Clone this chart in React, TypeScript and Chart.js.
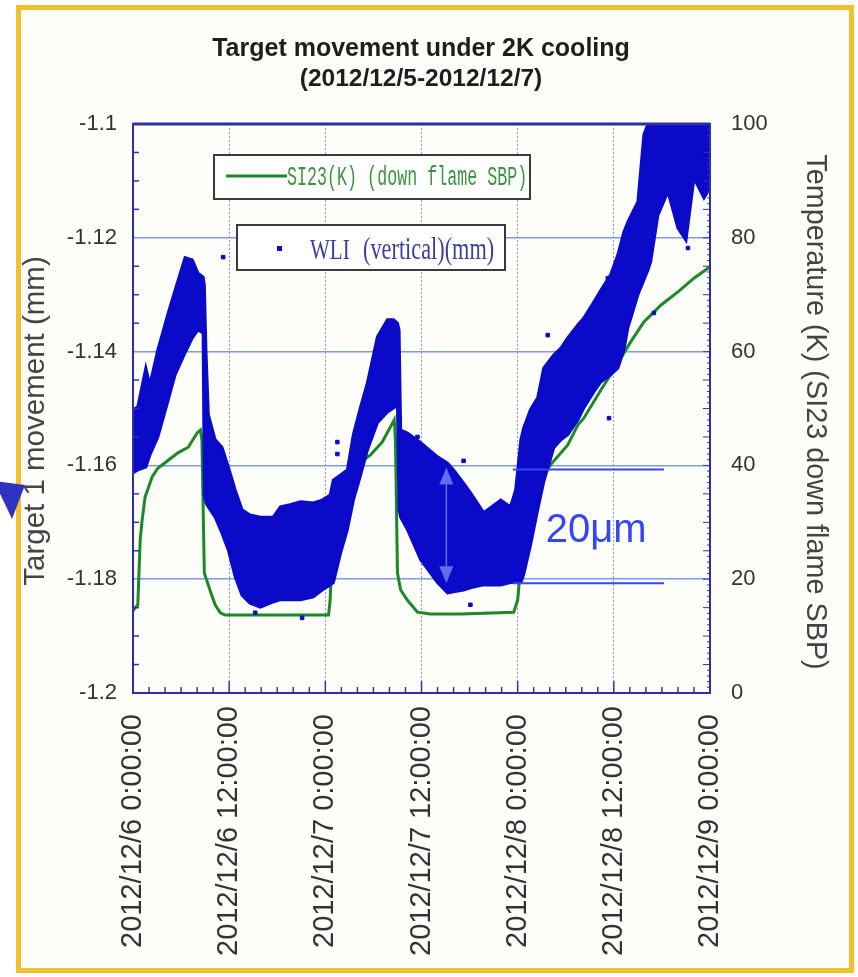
import React, { useEffect, useRef } from 'react';
import { Chart, registerables } from 'chart.js';

Chart.register(...registerables);

// ---------- text ----------
const TITLE_LINES = ['Target movement under 2K cooling', '(2012/12/5-2012/12/7)'];
const Y_TITLE = 'Target 1 movement (mm)';
const Y1_TITLE = 'Temperature (K) (SI23 down flame SBP)';
const LEGEND_TEMP = 'SI23(K) (down flame SBP)';
const LEGEND_WLI_A = 'WLI';
const LEGEND_WLI_B = '(vertical)(mm)';
const ANNOT_TEXT = '20\u03bcm';

// ---------- ticks ----------
const X_TICK_LABELS = [
  '2012/12/6 0:00:00',
  '2012/12/6 12:00:00',
  '2012/12/7 0:00:00',
  '2012/12/7 12:00:00',
  '2012/12/8 0:00:00',
  '2012/12/8 12:00:00',
  '2012/12/9 0:00:00',
];
const Y_TICK_LABELS = ['-1.2', '-1.18', '-1.16', '-1.14', '-1.12', '-1.1'];
const Y1_TICK_LABELS = ['0', '20', '40', '60', '80', '100'];

// ---------- data: hours since 2012/12/6 0:00 ----------
// WLI (vertical) scatter cloud, read as an upper and lower envelope (mm)
const WLI_HOURS = [
  0, 0.6, 1.6, 2.1, 3.1, 4.4, 5.25, 6.5, 7.4, 8.1,
  8.75, 8.9, 9.1, 9.4, 10.25, 11.1, 11.9, 12.75, 13.6, 14.6,
  15.9, 17.5, 18.4, 19.6, 20.9, 22.5, 23.6, 24.6, 25, 25.9,
  26.75, 27.5, 28.4, 29.25, 30.5, 31.75, 32.5, 33, 33.2, 33.4,
  34.25, 35.9, 38, 39.25, 40, 41.25, 42.1, 43.75, 45.9, 47.1,
  47.75, 48.4, 48.75, 49.6, 50.5, 51.25, 52.5, 53.4, 54.25, 55.5,
  56.25, 57.5, 58.4, 59.6, 60.5, 61.25, 61.75, 63, 63.75, 64.25,
  64.6, 65.5, 66.75, 68, 69, 70, 71.25, 72,
];
const WLI_UPPER = [
  -1.1503, -1.1497, -1.1429, -1.1459, -1.1397, -1.1332, -1.1292, -1.1235, -1.1239, -1.1262,
  -1.1269, -1.1283, -1.1397, -1.1511, -1.1555, -1.1568, -1.1603, -1.1643, -1.1678, -1.1687,
  -1.1691, -1.1691, -1.1673, -1.1669, -1.1664, -1.1666, -1.1661, -1.1652, -1.1626, -1.1617,
  -1.1608, -1.1546, -1.1497, -1.1455, -1.1374, -1.1344, -1.1344, -1.135, -1.1362, -1.1538,
  -1.1543, -1.156, -1.1585, -1.1596, -1.1608, -1.1631, -1.1648, -1.1683, -1.1661, -1.1673,
  -1.1643, -1.1555, -1.1534, -1.1502, -1.1481, -1.1429, -1.1406, -1.1394, -1.1376, -1.1353,
  -1.1341, -1.1313, -1.1292, -1.1265, -1.123, -1.119, -1.1172, -1.1137, -1.1019, -1.1,
  -1.1, -1.1, -1.1, -1.1, -1.1, -1.1, -1.1, -1.1,
];
const WLI_LOWER = [
  -1.1613, -1.1608, -1.1603, -1.1582, -1.155, -1.1485, -1.1441, -1.1402, -1.1376, -1.1362,
  -1.1367, -1.1652, -1.1666, -1.1673, -1.1691, -1.1719, -1.1749, -1.1796, -1.1828, -1.1842,
  -1.1849, -1.184, -1.1836, -1.1836, -1.1836, -1.1831, -1.1819, -1.181, -1.1806, -1.1754,
  -1.1713, -1.1661, -1.1617, -1.1573, -1.1525, -1.1506, -1.1499, -1.1494, -1.1678, -1.1691,
  -1.1713, -1.1766, -1.1806, -1.1824, -1.1822, -1.1819, -1.1815, -1.181, -1.181, -1.1806,
  -1.1806, -1.1806, -1.1792, -1.174, -1.1678, -1.1629, -1.1569, -1.1555, -1.1546, -1.152,
  -1.1499, -1.1471, -1.1453, -1.1441, -1.1429, -1.1397, -1.1358, -1.13, -1.1274, -1.1257,
  -1.1242, -1.116, -1.1119, -1.1183, -1.1204, -1.1095, -1.113, -1.1112,
];
// isolated WLI points
const WLI_OUTLIER_HOURS = [11.25, 15.25, 21.1, 25.5, 25.5, 35.5, 41.25, 42.1, 50, 51.75, 59.25, 59.4, 65, 69.25];
const WLI_OUTLIER_VALUES = [-1.1234, -1.1859, -1.1868, -1.1559, -1.158, -1.155, -1.1592, -1.1845, -1.1683, -1.1371, -1.1271, -1.1517, -1.1332, -1.1218];

// SI23 temperature (K)
const TEMP_HOURS = [
  0, 0.6, 0.9, 1.1, 1.5, 2.4, 3.1, 4.4, 5.6, 6.9,
  8.0, 8.4, 8.6, 8.9, 9.6, 10.25, 10.9, 11.5, 24.4, 24.6,
  24.9, 25.25, 25.9, 27.1, 28.4, 29.6, 31.1, 32.1, 32.6, 32.75,
  33.0, 33.4, 34.25, 35.5, 37.1, 41.0, 47.5, 48.0, 48.4, 48.75,
  49.6, 50.9, 52.1, 54.25, 55.5, 56.25, 58.4, 60, 62.1, 63.75,
  65.9, 68, 70, 72,
];
const TEMP_VALUES = [
  14.5, 15.5, 26.9, 29.9, 34.4, 38.0, 39.5, 40.9, 42.2, 43.2,
  45.7, 46.2, 44.5, 21.1, 18.1, 15.5, 14.1, 13.7, 13.7, 16.3,
  26.9, 33.9, 36.9, 39.2, 40.6, 41.8, 44.1, 46.7, 48.0, 44.5,
  21.1, 18.1, 16.3, 14.2, 13.9, 13.9, 14.2, 16.3, 22.5, 28.6,
  33.9, 37.4, 40.1, 43.6, 47.1, 48.3, 53.3, 56.8, 61.7, 65.2,
  68.2, 70.5, 72.9, 74.9,
];

// annotation ("20um" span)
const ANNOT_TOP = -1.1607;
const ANNOT_BOTTOM = -1.1807;
const ANNOT_X_START = 47.4;
const ANNOT_X_END = 66.25;
const ANNOT_ARROW_X = 39.1;
const ANNOT_TEXT_X = 51.5;
const ANNOT_TEXT_Y = -1.1735;

const BLUE = '#0a0ac8';
const GREEN = '#1b8a26';
const SANS = '"Liberation Sans", Arial, sans-serif';
const X_LABEL_CENTER_Y = 831;

const decorPlugin = {
  id: 'decor',
  beforeDraw(chart: any) {
    const ctx = chart.ctx as CanvasRenderingContext2D;
    // rotated x labels are centred in the axis band (as in the source)
    const sx = chart.scales.x;
    if (sx && !sx.__centered) {
      const orig = sx.getLabelItems.bind(sx);
      sx.getLabelItems = (ca: any) =>
        orig(ca).map((it: any) => ({
          ...it,
          options: {
            ...it.options,
            textAlign: 'center',
            translation: [it.options.translation[0], X_LABEL_CENTER_Y],
          },
        }));
      sx.__centered = true;
    }
    ctx.save();
    ctx.fillStyle = '#ffffff';
    ctx.fillRect(0, 0, chart.width, chart.height);
    ctx.fillStyle = '#fdfdfa';
    ctx.fillRect(18, 7, 834, 964);
    ctx.strokeStyle = '#f0c12f';
    ctx.lineWidth = 5;
    ctx.strokeRect(18.5, 7.5, 833, 963);
    ctx.fillStyle = '#1e1e1e';
    ctx.textAlign = 'center';
    ctx.textBaseline = 'alphabetic';
    ctx.font = 'bold 25px ' + SANS;
    ctx.fillText(TITLE_LINES[0], 421, 56);
    ctx.font = 'bold 24.5px ' + SANS;
    ctx.fillText(TITLE_LINES[1], 421, 86);
    // axis titles
    ctx.fillStyle = '#444444';
    ctx.textBaseline = 'middle';
    ctx.font = '29.5px ' + SANS;
    ctx.save();
    ctx.translate(36, 421);
    ctx.rotate(-Math.PI / 2);
    ctx.fillText(Y_TITLE, 0, 0);
    ctx.restore();
    ctx.font = '28.8px ' + SANS;
    ctx.save();
    ctx.translate(815, 412);
    ctx.rotate(Math.PI / 2);
    ctx.fillText(Y1_TITLE, 0, 0);
    ctx.restore();
    ctx.restore();
  },
  afterDatasetsDraw(chart: any) {
    const ctx = chart.ctx as CanvasRenderingContext2D;
    const { left, right, top, bottom } = chart.chartArea;
    const ys = chart.scales.y;
    const xs = chart.scales.x;
    const y1 = chart.scales.y1;
    ctx.save();
    ctx.strokeStyle = '#3434a8';
    ctx.lineWidth = 1.5;
    const seg = (a: number, b: number, c: number, d: number) => {
      ctx.beginPath();
      ctx.moveTo(a, b);
      ctx.lineTo(c, d);
      ctx.stroke();
    };
    // left minor ticks every 0.005
    for (let k = 1; k < 20; k++) {
      if (k % 4 === 0) continue;
      const py = ys.getPixelForValue(-1.2 + k * 0.005);
      seg(left, py, left + 6, py);
    }
    // bottom ticks every 2 h, major every 12 h
    for (let h = 2; h < 72; h += 2) {
      const px = xs.getPixelForValue(h);
      seg(px, bottom, px, bottom - (h % 12 === 0 ? 12 : 6));
    }
    // right ticks every 1 K, longer every 5 K
    ctx.lineWidth = 1;
    for (let t = 1; t < 100; t++) {
      const py = y1.getPixelForValue(t);
      seg(right, py, right - (t % 5 === 0 ? 7 : 3), py);
    }
    // frame
    ctx.strokeStyle = '#2e2ea6';
    ctx.lineWidth = 2;
    ctx.strokeRect(left, top, right - left, bottom - top);
    ctx.lineWidth = 3;
    seg(left, top, right, top);
    ctx.restore();
  },
  afterDraw(chart: any) {
    const ctx = chart.ctx as CanvasRenderingContext2D;
    const ys = chart.scales.y;
    const xs = chart.scales.x;
    ctx.save();
    // legend box 1 (temperature)
    ctx.fillStyle = '#ffffff';
    ctx.fillRect(214, 155, 316, 44);
    ctx.strokeStyle = '#3a3a3a';
    ctx.lineWidth = 2;
    ctx.strokeRect(214, 155, 316, 44);
    ctx.strokeStyle = GREEN;
    ctx.lineWidth = 3;
    ctx.beginPath();
    ctx.moveTo(226, 176);
    ctx.lineTo(287, 176);
    ctx.stroke();
    ctx.fillStyle = '#3f923f';
    ctx.textAlign = 'left';
    ctx.textBaseline = 'alphabetic';
    ctx.font = '16.7px "Liberation Mono", "DejaVu Sans Mono", monospace';
    ctx.save();
    ctx.translate(287, 185);
    ctx.scale(1, 1.6);
    ctx.fillText(LEGEND_TEMP, 0, 0);
    ctx.restore();
    // legend box 2 (WLI)
    ctx.fillStyle = '#ffffff';
    ctx.fillRect(237, 225, 268, 45);
    ctx.strokeStyle = '#3a3a3a';
    ctx.lineWidth = 2;
    ctx.strokeRect(237, 225, 268, 45);
    ctx.fillStyle = BLUE;
    ctx.fillRect(277, 246, 5, 5);
    ctx.fillStyle = '#3c3ca2';
    ctx.save();
    ctx.translate(310, 259);
    ctx.scale(1, 1.45);
    ctx.font = '21px "Liberation Serif", "DejaVu Serif", serif';
    ctx.fillText(LEGEND_WLI_A, 0, 0);
    ctx.font = '22.3px "Liberation Serif", "DejaVu Serif", serif';
    ctx.fillText(LEGEND_WLI_B, 53, 0);
    ctx.restore();

    // 20um annotation
    const yT = ys.getPixelForValue(ANNOT_TOP);
    const yB = ys.getPixelForValue(ANNOT_BOTTOM);
    const x0 = xs.getPixelForValue(ANNOT_X_START);
    const x1 = xs.getPixelForValue(ANNOT_X_END);
    const xa = xs.getPixelForValue(ANNOT_ARROW_X);
    ctx.strokeStyle = '#3646f2';
    ctx.lineWidth = 2;
    ctx.beginPath();
    ctx.moveTo(x0, yT);
    ctx.lineTo(x1, yT);
    ctx.moveTo(x0, yB);
    ctx.lineTo(x1, yB);
    ctx.stroke();
    ctx.strokeStyle = '#5f6cf0';
    ctx.lineWidth = 1.5;
    ctx.beginPath();
    ctx.moveTo(xa, yT + 10);
    ctx.lineTo(xa, yB - 10);
    ctx.stroke();
    ctx.fillStyle = '#5f6cf0';
    ctx.beginPath();
    ctx.moveTo(xa, yT - 2);
    ctx.lineTo(xa - 7, yT + 15);
    ctx.lineTo(xa + 7, yT + 15);
    ctx.closePath();
    ctx.fill();
    ctx.beginPath();
    ctx.moveTo(xa, yB);
    ctx.lineTo(xa - 7, yB - 17);
    ctx.lineTo(xa + 7, yB - 17);
    ctx.closePath();
    ctx.fill();
    ctx.fillStyle = '#3646f2';
    ctx.font = '40px ' + SANS;
    ctx.textAlign = 'left';
    ctx.fillText(ANNOT_TEXT, xs.getPixelForValue(ANNOT_TEXT_X), ys.getPixelForValue(ANNOT_TEXT_Y));

    // pointer arrow at the left edge
    ctx.fillStyle = '#3232c0';
    ctx.beginPath();
    ctx.moveTo(25, 485);
    ctx.lineTo(-6, 481);
    ctx.lineTo(12, 519);
    ctx.closePath();
    ctx.fill();
    ctx.restore();
  },
};

export default function App() {
  const ref = useRef<HTMLCanvasElement>(null);

  useEffect(() => {
    const canvas = ref.current;
    if (!canvas) return;

    const upper = WLI_HOURS.map((h, i) => ({ x: h, y: WLI_UPPER[i] }));
    const lower = WLI_HOURS.map((h, i) => ({ x: h, y: WLI_LOWER[i] }));
    const outliers = WLI_OUTLIER_HOURS.map((h, i) => ({ x: h, y: WLI_OUTLIER_VALUES[i] }));
    const temp = TEMP_HOURS.map((h, i) => ({ x: h, y: TEMP_VALUES[i] }));

    const chart = new Chart(canvas, {
      type: 'line',
      data: {
        datasets: [
          {
            label: 'WLI upper',
            data: upper,
            yAxisID: 'y',
            borderColor: BLUE,
            borderWidth: 3,
            pointRadius: 0,
            tension: 0,
            fill: false,
            clip: 0,
          },
          {
            label: 'WLI (vertical)(mm)',
            data: lower,
            yAxisID: 'y',
            borderColor: BLUE,
            backgroundColor: BLUE,
            borderWidth: 3,
            pointRadius: 0,
            tension: 0,
            fill: '-1',
            clip: 0,
          },
          {
            label: 'WLI points',
            data: outliers,
            yAxisID: 'y',
            showLine: false,
            pointStyle: 'rect',
            pointRadius: 2.5,
            pointBackgroundColor: BLUE,
            pointBorderColor: BLUE,
            clip: 0,
          },
          {
            label: LEGEND_TEMP,
            data: temp,
            yAxisID: 'y1',
            borderColor: GREEN,
            borderWidth: 3,
            pointRadius: 0,
            tension: 0,
            fill: false,
            clip: 0,
          },
        ],
      } as any,
      options: {
        responsive: false,
        animation: false,
        devicePixelRatio: 1,
        events: [],
        layout: { padding: { top: 124, left: 0, right: 0, bottom: 0 } },
        plugins: {
          legend: { display: false },
          tooltip: { enabled: false },
          title: { display: false },
        },
        scales: {
          x: {
            type: 'linear',
            position: 'bottom',
            min: 0,
            max: 72,
            afterFit: (s: any) => {
              s.height = 284;
            },
            ticks: {
              stepSize: 12,
              autoSkip: false,
              maxRotation: 90,
              minRotation: 90,
              padding: 19,
              color: '#333333',
              font: { family: SANS, size: 29 },
              callback: (v: any) => X_TICK_LABELS[Math.round(Number(v) / 12)] ?? '',
            },
            grid: { color: '#8595d8', lineWidth: 1, drawTicks: false },
            border: { display: false, dash: [2, 2] },
          },
          y: {
            type: 'linear',
            position: 'left',
            min: -1.2,
            max: -1.1,
            afterFit: (s: any) => {
              s.width = 133;
            },
            ticks: {
              stepSize: 0.02,
              padding: 16,
              color: '#333333',
              font: { family: SANS, size: 22 },
              callback: (v: any) => Y_TICK_LABELS[Math.round((Number(v) + 1.2) / 0.02)] ?? '',
            },
            grid: { color: '#7f9ae0', lineWidth: 1.5, drawTicks: false },
            border: { display: false },
          },
          y1: {
            type: 'linear',
            position: 'right',
            min: 0,
            max: 100,
            afterFit: (s: any) => {
              s.width = 148;
            },
            ticks: {
              stepSize: 20,
              padding: 21,
              color: '#333333',
              font: { family: SANS, size: 22 },
              callback: (v: any) => Y1_TICK_LABELS[Math.round(Number(v) / 20)] ?? '',
            },
            grid: { display: false, drawOnChartArea: false, drawTicks: false },
            border: { display: false },
          },
        },
      } as any,
      plugins: [decorPlugin],
    });

    return () => chart.destroy();
  }, []);

  return (
    <div style={{ position: 'absolute', left: 0, top: 0, width: 858, height: 977 }}>
      <canvas ref={ref} width={858} height={977} style={{ display: 'block', width: 858, height: 977 }} />
    </div>
  );
}
